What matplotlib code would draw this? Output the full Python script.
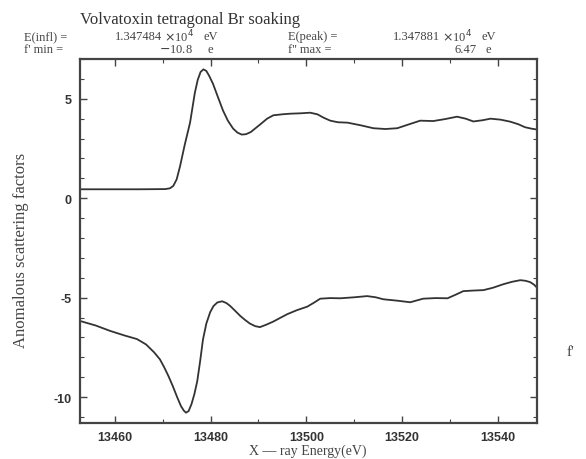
import matplotlib
matplotlib.use("Agg")
import matplotlib.pyplot as plt
from matplotlib.ticker import MultipleLocator

# f'' (upper curve)
e_fpp = [13452.7, 13465.0, 13470.5, 13471.5, 13472.2, 13472.9, 13473.6, 13474.6,
         13475.7, 13476.7, 13477.3, 13477.9, 13478.5, 13479.1, 13479.7, 13480.5,
         13481.5, 13482.6, 13483.6, 13484.7, 13485.6, 13486.5, 13487.4, 13488.4,
         13490.3, 13491.8, 13493.1, 13495.0, 13496.6, 13498.8, 13500.8, 13502.3,
         13503.6, 13505.0, 13506.6, 13508.6, 13511.3, 13514.0, 13516.5, 13519.0,
         13521.5, 13523.8, 13526.5, 13529.0, 13531.5, 13533.3, 13534.9, 13536.8,
         13538.5, 13540.6, 13542.6, 13544.3, 13545.7, 13547.0, 13548.3]
v_fpp = [0.45, 0.45, 0.46, 0.5, 0.62, 0.95, 1.6, 2.7,
         3.8, 5.3, 5.95, 6.35, 6.48, 6.4, 6.15, 5.75,
         5.1, 4.4, 3.9, 3.5, 3.3, 3.2, 3.22, 3.33,
         3.7, 4.0, 4.17, 4.22, 4.25, 4.27, 4.3, 4.22,
         4.05, 3.9, 3.82, 3.8, 3.67, 3.52, 3.48, 3.52,
         3.72, 3.9, 3.88, 3.98, 4.1, 4.0, 3.86, 3.92,
         4.0, 3.95, 3.85, 3.72, 3.57, 3.5, 3.45]

# f' (lower curve)
e_fp = [13452.7, 13456.0, 13459.0, 13462.0, 13464.6, 13466.5, 13468.2, 13469.4,
        13470.3, 13471.2, 13472.1, 13473.0, 13473.8, 13474.4, 13474.85, 13475.4,
        13476.0, 13476.6, 13477.2, 13477.8, 13478.4, 13479.1, 13479.9, 13480.6,
        13481.4, 13482.4, 13483.3, 13484.1, 13485.2, 13486.2, 13487.2, 13488.2,
        13489.3, 13490.3, 13491.7, 13493.1, 13494.5, 13496.0, 13498.0, 13500.2,
        13501.6, 13502.9, 13505.0, 13507.1, 13510.0, 13512.7, 13514.5, 13516.1,
        13519.0, 13521.7, 13524.4, 13527.0, 13529.5, 13531.2, 13532.8, 13535.0,
        13537.0, 13539.0, 13541.2, 13543.0, 13544.7, 13545.8, 13546.8, 13547.6,
        13548.3]
v_fp = [-6.17, -6.4, -6.67, -6.9, -7.08, -7.35, -7.75, -8.1,
        -8.5, -8.95, -9.45, -10.0, -10.45, -10.68, -10.78, -10.7,
        -10.35, -9.85, -9.2, -8.2, -7.1, -6.3, -5.73, -5.42,
        -5.24, -5.18, -5.27, -5.42, -5.68, -5.92, -6.12, -6.3,
        -6.43, -6.48, -6.35, -6.2, -6.02, -5.83, -5.63, -5.45,
        -5.25, -5.05, -5.02, -5.03, -4.98, -4.92, -4.98, -5.08,
        -5.15, -5.23, -5.05, -5.02, -5.03, -4.85, -4.67, -4.64,
        -4.62, -4.5, -4.32, -4.2, -4.12, -4.15, -4.22, -4.35,
        -4.52]

x_ticks = [13460, 13480, 13500, 13520, 13540]
y_ticks = [-10, -5, 0, 5]

serif = ["Liberation Serif", "DejaVu Serif"]
sans = ["Liberation Sans", "DejaVu Sans"]

fig = plt.figure(figsize=(5.86, 4.6), dpi=100)
ax = fig.add_axes([80/586, 36/460, 457/586, 364/460])
ax.plot(e_fpp, v_fpp, color="#333333", lw=1.3)
ax.plot(e_fp, v_fp, color="#333333", lw=1.3)
ax.set_xlim(13452.7, 13548.2)
ax.set_ylim(-11.3, 7.0)
ax.set_xticks(x_ticks)
ax.set_yticks(y_ticks)
ax.set_yticklabels(["-10", "-5", "0", "5"])
ax.xaxis.set_minor_locator(MultipleLocator(10))
ax.yaxis.set_minor_locator(MultipleLocator(1))
ax.tick_params(which="both", direction="in", top=True, right=True, color="#444444")
ax.tick_params(which="major", length=5, width=1)
ax.tick_params(which="minor", length=3, width=0.8)
for lab in ax.get_xticklabels() + ax.get_yticklabels():
    lab.set_family(sans)
    lab.set_fontweight("bold")
    lab.set_fontsize(9)
    lab.set_color("#333333")
ax.tick_params(axis="x", pad=6)
ax.tick_params(axis="y", pad=6)
for s in ax.spines.values():
    s.set_linewidth(1.6)
    s.set_color("#444444")

fig.text(80/586, 1 - 20/460, "Volvatoxin tetragonal Br soaking", family=serif,
         fontsize=12, va="center", ha="left", color="#333333")

def t(x, y, s, ha="left", size=9):
    fig.text(x/586, 1 - y/460, s, family=serif, fontsize=size, ha=ha, va="center",
             color="#444444")

t(24, 37, "E(infl) =")
t(162, 37, "1.347484", ha="right")
t(164, 37, r"$\times$10$^4$")
t(203, 37, "eV")
t(24, 50, "f' min =")
t(193, 50, "$-$10.8", ha="right")
t(207, 50, "e")
t(288, 37, "E(peak) =")
t(440, 37, "1.347881", ha="right")
t(442, 37, r"$\times$10$^4$")
t(481, 37, "eV")
t(288, 50, "f'' max =")
t(477, 50, "6.47", ha="right")
t(485, 50, "e")

fig.text(308/586, 1 - 451/460, "X \u2014 ray Energy(eV)", family=serif, fontsize=10,
         ha="center", va="center", color="#444444")
fig.text(21/586, 1 - 250/460, "Anomalous scattering factors", family=serif, fontsize=12,
         rotation=90, ha="center", va="center", color="#444444")
fig.text(570/586, 1 - 352/460, "f'", family=serif, fontsize=11,
         ha="center", va="center", color="#444444")

fig.savefig("out.png", dpi=100)
